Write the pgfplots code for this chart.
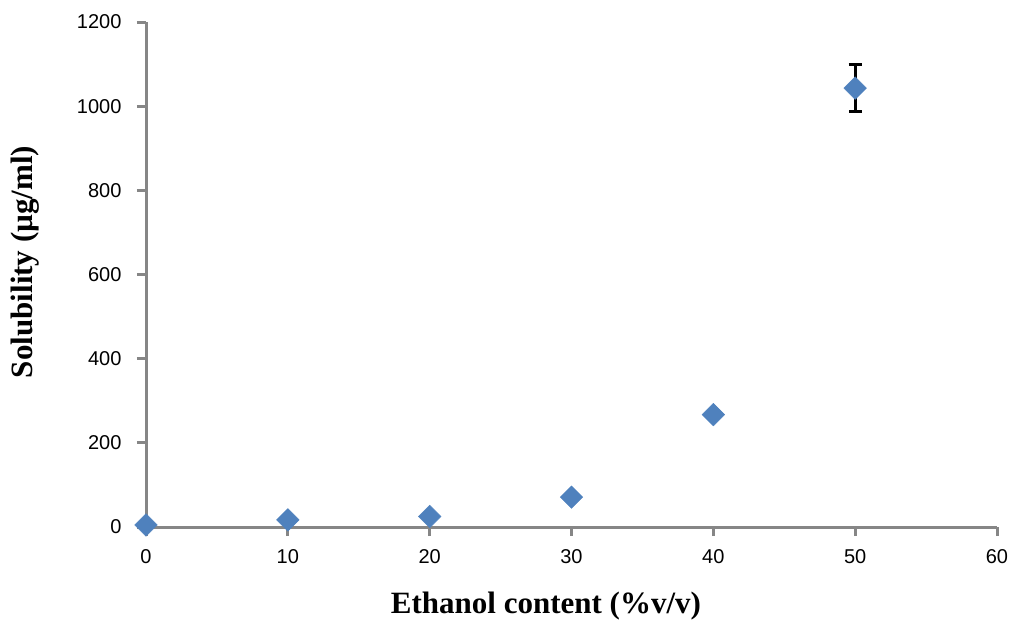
\documentclass[border=0pt]{standalone}
\usepackage{pgfplots}
\pgfplotsset{compat=1.18}
\usepackage{fontspec}
\setmainfont{Liberation Serif}
\newfontfamily\arialf{Liberation Sans}
\definecolor{mblue}{HTML}{4F81BD}
\definecolor{axgray}{HTML}{868686}
\begin{document}
\begin{tikzpicture}
\useasboundingbox (0pt,0pt) rectangle (1012pt,-624pt);
\begin{axis}[
  at={(146pt,-527pt)}, anchor=south west,
  scale only axis, width=851pt, height=505pt,
  xmin=0, xmax=60, ymin=0, ymax=1200,
  axis lines*=left,
  axis line style={-},
  every outer x axis line/.append style={axgray, line width=3pt},
  every outer y axis line/.append style={axgray, line width=3pt},
  xtick={0,10,...,60}, ytick={0,200,...,1200},
  every tick/.append style={axgray, line width=3pt},
  tick align=outside, major tick length=9pt,
  tick label style={font=\arialf\fontsize{20}{20}\selectfont},
  /pgf/number format/assume math mode=true,
  /pgf/number format/set thousands separator={},
  xticklabel style={yshift=-10pt},
  yticklabel style={xshift=-12pt},
  xlabel={\bfseries Ethanol content (\%v/v)},
  ylabel={\bfseries Solubility (µg/ml)},
  label style={font=\fontsize{31}{31}\selectfont},
  xlabel style={at={(axis description cs:0.470,0)}, anchor=center, yshift=-79pt},
  ylabel style={at={(axis description cs:0,0.525)}, anchor=center, yshift=121pt},
  clip=false,
]
\addplot[only marks, mark=square*, mark size=8pt,
  mark options={rotate=45, fill=mblue, draw=mblue},
  error bars/.cd, y dir=both, y explicit,
  error bar style={black, line width=3pt},
  error mark options={rotate=90, mark size=6.5pt, black, line width=3pt}]
  coordinates {
  (0,5) +- (0,0)
  (10,17) +- (0,0)
  (20,25) +- (0,0)
  (30,71) +- (0,0)
  (40,267) +- (0,0)
  (50,1043) +- (0,56)
  };
\end{axis}
\end{tikzpicture}
\end{document}
